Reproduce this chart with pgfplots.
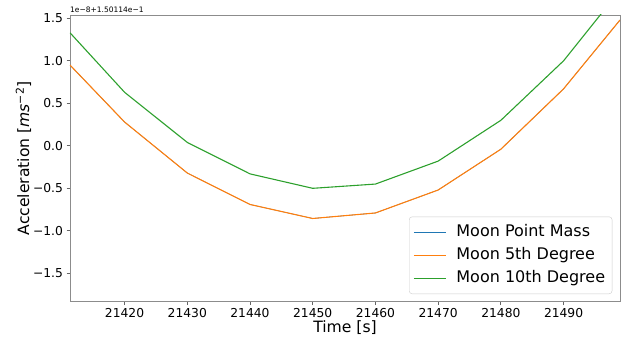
\documentclass[border=0pt]{standalone}
\usepackage{pgfplots}
\pgfplotsset{compat=1.18}
\usepackage{fontspec}
\setmainfont{DejaVu Sans}
\definecolor{tabblue}{HTML}{1F77B4}
\definecolor{taborange}{HTML}{FF7F0E}
\definecolor{tabgreen}{HTML}{2CA02C}
\begin{document}
\begin{tikzpicture}
\useasboundingbox (-70pt,-39.3pt) rectangle (551pt,301.7pt);
\begin{axis}[
  at={(0pt,0pt)}, anchor=south west,
  scale only axis, width=550pt, height=286.7pt,
  xmin=21411.3, xmax=21499, ymin=-1.834, ymax=1.539,
  scaled x ticks=false, scaled y ticks=false,
  xtick={21420,21430,21440,21450,21460,21470,21480,21490},
  xticklabels={21420,21430,21440,21450,21460,21470,21480,21490},
  ytick={-1.5,-1,-0.5,0,0.5,1,1.5},
  yticklabels={−1.5,−1.0,−0.5,0.0,0.5,1.0,1.5},
  tick label style={font=\fontsize{12.3}{14}\selectfont},
  xtick pos=bottom, ytick pos=left,
  tick align=outside, major tick length=3.5pt,
  tick style={black!60, line width=0.8pt},
  axis line style={black!45, line width=0.8pt},
  xlabel={Time [s]},
  ylabel={Acceleration [\textit{ms}\textsuperscript{−2}]},
  label style={font=\fontsize{15.6}{18}\selectfont},
  xlabel style={at={(axis description cs:0.5,-0.0917)}, anchor=center},
  ylabel style={at={(axis description cs:-0.0845,0.5)}, anchor=center},
  legend image code/.code={\draw[#1, line width=1.2pt] (0pt,0pt) -- (32pt,0pt);},
  legend cell align=left,
  legend style={at={(axis description cs:1,0)}, anchor=south east,
    xshift=-7.7pt, yshift=7.7pt, draw=black!20, rounded corners=3pt,
    font=\fontsize{16}{19}\selectfont, inner xsep=4pt, inner ysep=5.25pt,
    row sep=2.5pt,
    nodes={inner xsep=3pt, inner ysep=2.5pt, text height=12pt, text depth=3.5pt},
    /tikz/every odd column/.append style={column sep=7pt}},
]
\addplot[tabblue, line width=0.5pt] coordinates {
(21411.3,0.95) (21420,0.28) (21430,-0.32) (21440,-0.69) (21450,-0.855)
(21460,-0.79) (21470,-0.52) (21480,-0.04) (21490,0.67) (21499,1.48)};
\addlegendentry{Moon Point Mass}
\addplot[taborange, line width=1.1pt] coordinates {
(21411.3,0.95) (21420,0.28) (21430,-0.32) (21440,-0.69) (21450,-0.855)
(21460,-0.79) (21470,-0.52) (21480,-0.04) (21490,0.67) (21499,1.48)};
\addlegendentry{Moon 5th Degree}
\addplot[tabgreen, line width=1.1pt] coordinates {
(21411.3,1.33) (21420,0.63) (21430,0.04) (21440,-0.33) (21450,-0.50)
(21460,-0.45) (21470,-0.18) (21480,0.30) (21490,1.00) (21499,1.83)};
\addlegendentry{Moon 10th Degree}
\end{axis}
\node[anchor=south west, inner sep=0pt, font=\fontsize{7.5}{8}\selectfont] at (0pt,288.5pt) {1e−8+1.50114e−1};
\end{tikzpicture}
\end{document}
